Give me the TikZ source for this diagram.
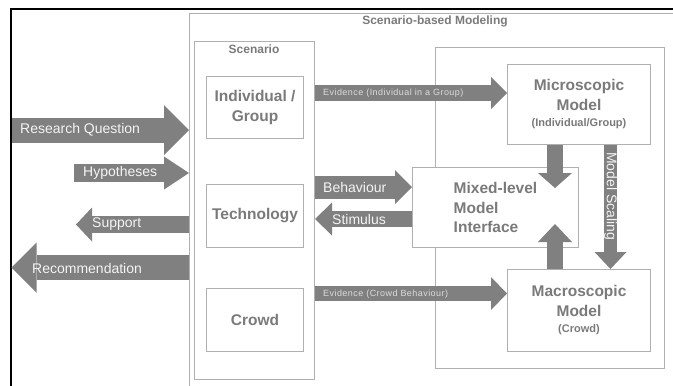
\documentclass[tikz,border=0pt]{standalone}
\usepackage{fontspec}
\setmainfont{Liberation Sans}
\newfontfamily\spacedsans[LetterSpace=5]{Liberation Sans}
\usetikzlibrary{arrows.meta,positioning}

\definecolor{arrowgray}{HTML}{808080}
\definecolor{linegray}{HTML}{B0B0B0}
\definecolor{textgray}{HTML}{7A7A7A}
\definecolor{lighttext}{HTML}{F4F4F4}
\definecolor{smalltext}{HTML}{DCDCDC}

\tikzset{
  modelbox/.style={draw=linegray, line width=1pt, fill=white, text=textgray,
    font=\fontsize{15.5}{19.5}\selectfont\bfseries, align=center, inner sep=0pt},
  fatarrow/.style n args={3}{draw=arrowgray, line width=#1,
    -{Triangle[width=#2, length=#3, line width=0pt 0]}},
  arrowtext/.style={text=lighttext, font=\fontsize{14}{16}\selectfont, inner sep=0pt, anchor=west},
  evidtext/.style={text=smalltext, font=\spacedsans\fontsize{9}{10}\selectfont, inner sep=0pt, anchor=west},
  headtext/.style={text=textgray, font=\fontsize{12}{14}\selectfont\bfseries, inner sep=0pt}
}

\begin{document}
\begin{tikzpicture}[x=1pt, y=-1pt]
    \useasboundingbox (0,0) rectangle (673,386);
    \clip (0,0) rectangle (673,386);

    % Frames
    \node[draw=black, line width=1.5pt, minimum width=700pt, minimum height=400pt, inner sep=0pt, anchor=north west] at (10,8)  (frame) {};
    \node[draw=linegray, line width=1pt, minimum width=600pt, minimum height=400pt, inner sep=0pt, anchor=north west] at (189,12.5)  (sbm) {};
    \node[headtext] at (435,21)  (sbmtitle) {Scenario-based Modeling};

    % Scenario column
    \node[modelbox, minimum width=120pt, minimum height=338pt, anchor=north west] at (194,41)  (scen) {};
    \node[headtext] at (254,49)  (scentitle) {Scenario};
    \node[modelbox, minimum width=97pt, minimum height=62pt, anchor=north west] at (206,76)  (indiv) {Individual /\\Group};
    \node[modelbox, minimum width=97pt, minimum height=63pt, anchor=north west] at (206,184)  (tech) {Technology};
    \node[modelbox, minimum width=97pt, minimum height=63pt, anchor=north west] at (206,288)  (crowd) {Crowd};

    % Models
    \node[modelbox, minimum width=229pt, minimum height=321pt, anchor=north west] at (435,47)  (models) {};
    \node[modelbox, minimum width=143pt, minimum height=80pt, anchor=north west] at (507,64)  (micro) {Microscopic\\Model\\[-3pt]{\fontsize{11}{13}\selectfont(Individual/Group)}};
    \node[modelbox, minimum width=143pt, minimum height=82pt, anchor=north west] at (507,269)  (macro) {Macroscopic\\Model\\[-3pt]{\fontsize{11}{13}\selectfont(Crowd)}};
    \node[modelbox, align=left, minimum width=166pt, minimum height=80pt, anchor=north west] at (412,167)  (mixed) {Mixed-level\\Model\\Interface};

    % Arrow levels
    \coordinate (rq)  at (0,130);
    \coordinate (hyp) at (74,173);
    \coordinate (sup) at (76,224.5);
    \coordinate (rec) at (0,267.5);
    \coordinate (evi) at (0,93);
    \coordinate (beh) at (0,187);
    \coordinate (sti) at (0,219);
    \coordinate (evc) at (0,293.5);
    \coordinate (down) at (555,188);
    \coordinate (up)   at (555,224);
    \coordinate (scal) at (610.5,0);

    \draw[fatarrow={25pt}{50pt}{25pt}, shorten <=1.5pt]  (frame.west |- rq) -- (sbm.west |- rq);
    \draw[fatarrow={18pt}{33pt}{25pt}]  (hyp) -- (sbm.west |- hyp);
    \draw[fatarrow={17pt}{34pt}{16pt}]  (sbm.west |- sup) -- (sup);
    \draw[fatarrow={25pt}{50pt}{25pt}, shorten >=1.5pt]  (sbm.west |- rec) -- (frame.west |- rec);

    \draw[fatarrow={16pt}{32pt}{16pt}]  (scen.east |- evi) -- (micro.west |- evi);
    \draw[fatarrow={23pt}{34pt}{17pt}]  (scen.east |- beh) -- (mixed.west |- beh);
    \draw[fatarrow={16pt}{33pt}{17pt}]  (mixed.west |- sti) -- (scen.east |- sti);
    \draw[fatarrow={15pt}{33pt}{16pt}]  (scen.east |- evc) -- (macro.west |- evc);

    \draw[fatarrow={16pt}{34pt}{15pt}]  (micro.south -| down) -- (down);
    \draw[fatarrow={16pt}{34pt}{18pt}]  (macro.north -| up) -- (up);
    \draw[fatarrow={13pt}{32pt}{17pt}]  (micro.south -| scal) -- (macro.north -| scal);

    % Arrow texts
    \node[arrowtext] at (20,130)  (rqtxt)  {Research Question};
    \node[arrowtext] at (83,173)  (hyptxt) {Hypotheses};
    \node[arrowtext] at (92,224)  (suptxt) {Support};
    \node[arrowtext] at (32,268)  (rectxt) {Recommendation};
    \node[evidtext]  at (323,93)  (evitxt) {Evidence (Individual in a Group)};
    \node[arrowtext] at (323,187) (behtxt) {Behaviour};
    \node[arrowtext] at (332,219) (stitxt) {Stimulus};
    \node[evidtext]  at (323,294) (evctxt) {Evidence (Crowd Behaviour)};
    \node[arrowtext, anchor=center, rotate=-90] at (610.5,196)  (scaltxt) {Model Scaling};
\end{tikzpicture}
\end{document}
